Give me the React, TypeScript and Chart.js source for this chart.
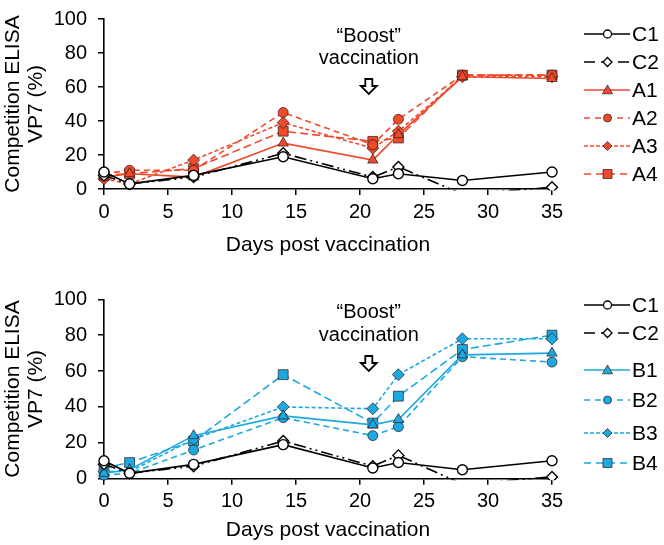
import React, { useEffect, useRef } from 'react';
import { Chart, registerables } from 'chart.js';

Chart.register(...registerables);

// ---------- data ----------
const days = [0, 2, 7, 14, 21, 23, 28, 35];
const c1 = [10, 3, 8, 19, 6, 9, 5, 10];
const c2 = [8, 3, 7, 21, 7, 13, -3, 1];
const a1 = [7, 9, 7, 27, 17, 32, 66, 65];
const a2 = [9, 11, 11, 45, 26, 41, 67, 67];
const a3 = [6, 3, 17, 39, 24, 34, 66, 66];
const a4 = [8, 9, 12, 34, 28, 30, 67, 67];
const b1 = [3, 5, 24, 35, 30, 33, 69, 70];
const b2 = [2, 3, 16, 34, 24, 29, 68, 65];
const b3 = [4, 4, 22, 40, 39, 58, 78, 78];
const b4 = [6, 9, 21, 58, 31, 46, 72, 80];
const xTitle = 'Days post vaccination';
const yTitle = ['Competition ELISA', 'VP7 (%)'];
const boostText = ['\u201CBoost\u201D', 'vaccination'];
const boostDay = 21;

const FONT = "'Liberation Sans', Arial, Helvetica, sans-serif";
const RED = '#EE4A2C';
const BLUE = '#1CA9E1';
const MARK_BORDER = 'rgba(40,20,20,0.85)';

function pts(vals: number[]) {
  return days.map((d, i) => ({ x: d, y: vals[i] }));
}

function makeDs(label: string, vals: number[], color: string, fill: string, style: string,
  radius: number, dash: number[], legendDash: number[], extra: any = {}) {
  return {
    label,
    data: pts(vals),
    borderColor: color,
    backgroundColor: fill,
    borderWidth: 1.6,
    borderDash: dash,
    pointStyle: style,
    pointRadius: radius,
    pointBackgroundColor: fill,
    pointBorderColor: color === '#000' ? '#000' : MARK_BORDER,
    pointBorderWidth: color === '#000' ? 1.4 : 0.8,
    tension: 0,
    clip: false,
    legendDash,
    ...extra,
  };
}

function controlSets() {
  return [
    makeDs('C1', c1, '#000', '#fff', 'circle', 5, [], []),
    makeDs('C2', c2, '#000', '#fff', 'rectRot', 5.5, [12, 4, 2, 4, 2, 4], [11, 6],
      { pointRadius: [5.5, 5.5, 5.5, 5.5, 5.5, 5.5, 0, 5.5], clip: { left: 10, top: 10, right: 10, bottom: 1.5 } }),
  ];
}

function groupSets(labels: string[], vals: number[][], color: string) {
  return [
    makeDs(labels[0], vals[0], color, color, 'triangle', 6, [], []),
    makeDs(labels[1], vals[1], color, color, 'circle', 5, [6, 4], [6, 5]),
    makeDs(labels[2], vals[2], color, color, 'rectRot', 6, [4, 2.5], [4, 2]),
    makeDs(labels[3], vals[3], color, color, 'rect', 7, [8, 4], [7, 5]),
  ];
}

function drawMarker(ctx: CanvasRenderingContext2D, style: string, x: number, y: number, r: number,
  fill: string, stroke: string, lw: number) {
  ctx.save();
  ctx.setLineDash([]);
  ctx.beginPath();
  if (style === 'circle') {
    ctx.arc(x, y, r, 0, Math.PI * 2);
  } else if (style === 'rect') {
    ctx.rect(x - r, y - r, 2 * r, 2 * r);
  } else if (style === 'rectRot') {
    const q = r * 1.25;
    ctx.moveTo(x, y - q); ctx.lineTo(x + q, y); ctx.lineTo(x, y + q); ctx.lineTo(x - q, y);
    ctx.closePath();
  } else if (style === 'triangle') {
    const q = r * 1.2;
    ctx.moveTo(x, y - q); ctx.lineTo(x + q, y + q * 0.75); ctx.lineTo(x - q, y + q * 0.75);
    ctx.closePath();
  }
  ctx.fillStyle = fill;
  ctx.fill();
  ctx.lineWidth = lw;
  ctx.strokeStyle = stroke;
  ctx.stroke();
  ctx.restore();
}

const overlayPlugin = {
  id: 'overlay',
  afterDraw(chart: any, _args: any, opts: any) {
    const ctx: CanvasRenderingContext2D = chart.ctx;
    // legend
    chart.data.datasets.forEach((ds: any, i: number) => {
      const y = opts.legendYs[i];
      ctx.save();
      ctx.strokeStyle = ds.borderColor;
      ctx.lineWidth = 1.6;
      ctx.setLineDash(ds.legendDash || []);
      ctx.beginPath();
      ctx.moveTo(584, y);
      ctx.lineTo(630, y);
      ctx.stroke();
      ctx.restore();
      const isCtl = ds.borderColor === '#000';
      const rMap: any = { circle: 4, rect: 4.5, rectRot: 3.6, triangle: 4.2 };
      drawMarker(ctx, ds.pointStyle, 607.5, y, rMap[ds.pointStyle], ds.pointBackgroundColor,
        isCtl ? '#000' : MARK_BORDER, isCtl ? 1.3 : 0.8);
      ctx.save();
      ctx.fillStyle = '#000';
      ctx.font = `21px ${FONT}`;
      ctx.textBaseline = 'middle';
      ctx.textAlign = 'left';
      ctx.fillText(ds.label, 632, y + 1);
      ctx.restore();
    });
    // boost annotation
    const xs = chart.scales.x;
    const ys = chart.scales.y;
    const cx = xs.getPixelForValue(boostDay) - 4;
    ctx.save();
    ctx.fillStyle = '#000';
    ctx.font = `20px ${FONT}`;
    ctx.textAlign = 'center';
    ctx.textBaseline = 'middle';
    ctx.fillText(boostText[0], cx, ys.getPixelForValue(opts.ann.boostY));
    ctx.fillText(boostText[1], cx, ys.getPixelForValue(opts.ann.vaccY));
    const top = ys.getPixelForValue(opts.ann.arrowY);
    ctx.beginPath();
    ctx.moveTo(cx - 3.5, top);
    ctx.lineTo(cx + 3.5, top);
    ctx.lineTo(cx + 3.5, top + 7);
    ctx.lineTo(cx + 8, top + 7);
    ctx.lineTo(cx, top + 15);
    ctx.lineTo(cx - 8, top + 7);
    ctx.lineTo(cx - 3.5, top + 7);
    ctx.closePath();
    ctx.fillStyle = '#fff';
    ctx.fill();
    ctx.lineWidth = 1.8;
    ctx.strokeStyle = '#000';
    ctx.stroke();
    ctx.restore();
  },
};

function buildConfig(datasets: any[], chartTop: number, xHeight: number, titlePadBottom: number,
  legendYs: number[], ann: any) {
  const tickFont = { family: FONT, size: 20, lineHeight: 0.8 };
  const gridCfg = { display: true, drawOnChartArea: false, drawTicks: true, tickLength: 6, color: '#000', lineWidth: 1.5 };
  const borderCfg = { display: true, color: '#000', width: 1.6 };
  return {
    type: 'line',
    data: { datasets },
    plugins: [overlayPlugin],
    options: {
      animation: false,
      responsive: false,
      layout: { padding: { top: chartTop, right: 112, left: 0, bottom: 0 } },
      plugins: {
        legend: { display: false },
        tooltip: { enabled: false },
        overlay: { legendYs, ann },
      },
      scales: {
        x: {
          type: 'linear',
          min: 0,
          max: 35,
          afterFit: (s: any) => { s.height = xHeight; },
          ticks: { stepSize: 5, font: tickFont, color: '#000', padding: 9, maxRotation: 0, autoSkip: false },
          grid: gridCfg,
          border: borderCfg,
          title: {
            display: true, text: xTitle, color: '#000',
            font: { family: FONT, size: 21, lineHeight: 1.2 },
            padding: { top: 0, bottom: titlePadBottom },
          },
        },
        y: {
          type: 'linear',
          min: 0,
          max: 100,
          afterFit: (s: any) => { s.width = 104; },
          ticks: { stepSize: 20, font: tickFont, color: '#000', padding: 11 },
          grid: gridCfg,
          border: borderCfg,
          title: {
            display: true, text: yTitle, color: '#000',
            font: { family: FONT, size: 21, lineHeight: 1.1 },
            padding: { top: 2, bottom: 0 },
          },
        },
      },
    },
  };
}

function ChartCanvas({ cfg, width, height }: { cfg: () => any; width: number; height: number }) {
  const ref = useRef<HTMLCanvasElement | null>(null);
  useEffect(() => {
    if (!ref.current) return;
    const chart = new Chart(ref.current, cfg());
    return () => chart.destroy();
  }, []);
  return <canvas ref={ref} width={width} height={height} style={{ display: 'block', width, height }} />;
}

export default function App() {
  const topCfg = () => buildConfig(
    [...controlSets(), ...groupSets(['A1', 'A2', 'A3', 'A4'], [a1, a2, a3, a4], RED)],
    8.3, 83, 14.4,
    [34, 62, 90, 118, 146, 174],
    { boostY: 89.6, vaccY: 76.9, arrowY: 64.7 },
  );
  const botCfg = () => buildConfig(
    [...controlSets(), ...groupSets(['B1', 'B2', 'B3', 'B4'], [b1, b2, b3, b4], BLUE)],
    27.3, 66.3, 2.4,
    [33, 61, 98, 128, 161, 191],
    { boostY: 92.4, vaccY: 79.6, arrowY: 68.4 },
  );
  return (
    <div style={{ position: 'absolute', left: 0, top: 0, width: 664, height: 545, background: '#fff' }}>
      <ChartCanvas cfg={topCfg} width={664} height={272} />
      <ChartCanvas cfg={botCfg} width={664} height={273} />
    </div>
  );
}
